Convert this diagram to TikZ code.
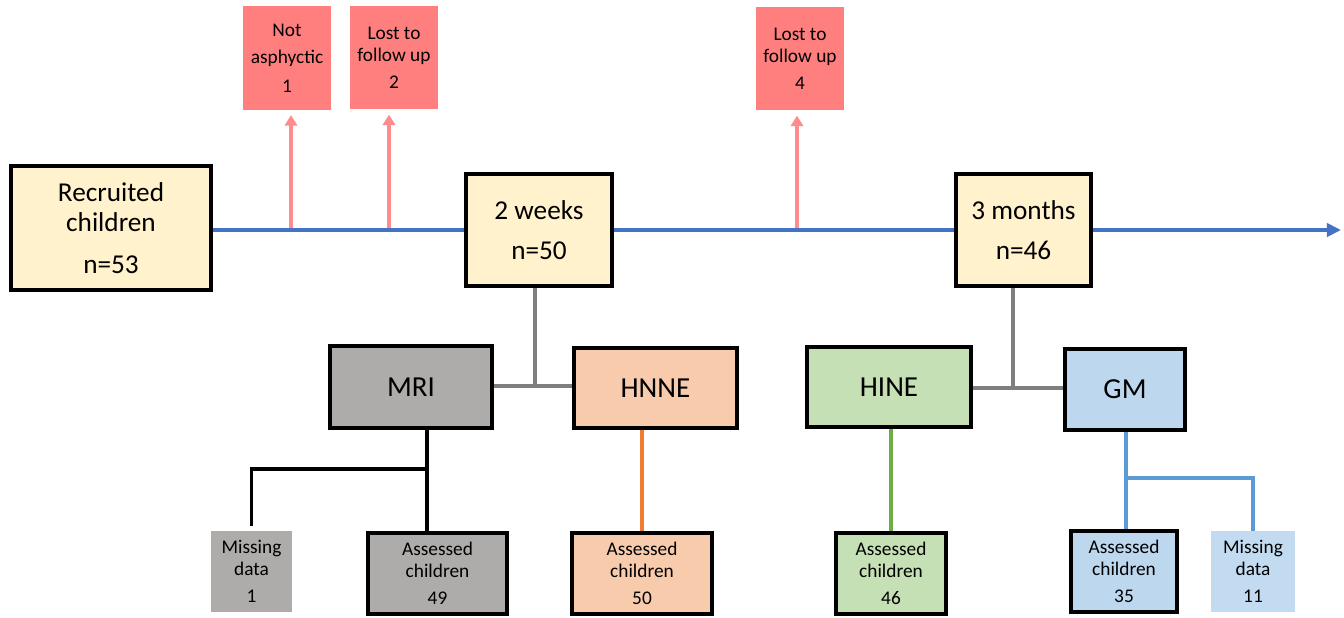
\documentclass[tikz,border=0pt]{standalone}
\usepackage{fontspec}
\setmainfont{Carlito}
\usetikzlibrary{arrows.meta}
\definecolor{cream}{HTML}{FFF2CC}
\definecolor{lostred}{HTML}{FF7F7F}
\definecolor{lostarr}{HTML}{FF8C8C}
\definecolor{mrigrey}{HTML}{AEABAB}
\definecolor{peach}{HTML}{F8CBAD}
\definecolor{mint}{HTML}{C5E0B4}
\definecolor{sky}{HTML}{BDD7EE}
\definecolor{skymiss}{HTML}{C3DBF1}
\definecolor{tline}{HTML}{4472C4}
\definecolor{linkgrey}{HTML}{7F7F7F}
\definecolor{orangel}{HTML}{ED7D31}
\definecolor{greenl}{HTML}{70AD47}
\definecolor{bluel}{HTML}{5B9BD5}
\begin{document}
\begin{tikzpicture}[
  big/.style={draw=black, line width=2pt, fill=cream, align=center, inner sep=1pt,
    font=\fontsize{15.5}{17}\selectfont},
  test/.style={draw=black, line width=2pt, align=center, inner sep=1pt,
    font=\fontsize{16.5}{19}\selectfont},
  small/.style={align=center, inner sep=1pt, minimum height=1.62cm,
    font=\fontsize{11}{12.5}\selectfont},
  lost/.style={small, fill=lostred, minimum width=1.76cm, minimum height=2.07cm},
  lostup/.style={draw=lostarr, line width=1.8pt, -{Triangle[length=6pt,width=7pt]}, shorten >=0.1cm},
  link/.style={draw=linkgrey, line width=1.8pt}
]
\useasboundingbox (0, 0) rectangle (26.88, -12.34);

% timeline boxes
\draw (2.22, -4.56) node[big, minimum width=4cm, minimum height=2.48cm] (rec) {Recruited\\children\\[7pt]n=53};
\draw (10.78, -4.6) node[big, minimum width=2.92cm, minimum height=2.24cm] (wk) {2 weeks\\[6pt]n=50};
\draw (20.47, -4.6) node[big, minimum width=2.7cm, minimum height=2.24cm] (mo) {3 months\\[6pt]n=46};
\coordinate (tend) at (26.82, -4.6);

% drop outs
\draw (5.74, -1.16) node[lost] (na) {Not\\[3pt]asphyctic\\[4pt]1};
\draw (7.88, -1.15) node[lost] (lf1) {Lost to\\follow up\\[3pt]2};
\draw (16.0, -1.17) node[lost] (lf2) {Lost to\\follow up\\[3pt]4};
\coordinate (a1) at (5.82, -4.6);
\coordinate (a2) at (7.78, -4.6);
\coordinate (a3) at (15.94, -4.6);
\draw[lostup] (a1) -- (a1 |- na.south);
\draw[lostup] (a2) -- (a2 |- lf1.south);
\draw[lostup] (a3) -- (a3 |- lf2.south);

\draw[draw=tline, line width=2.6pt] (rec.east |- wk.west) -- (wk.west);
\draw[draw=tline, line width=2.6pt] (wk.east) -- (mo.west);
\draw[draw=tline, line width=2.6pt, -{Triangle[length=8pt,width=7.5pt]}] (mo.east) -- (tend);

% tests
\draw (8.22, -7.74) node[test, fill=mrigrey, minimum width=3.24cm, minimum height=1.64cm] (mri) {MRI};
\draw (13.11, -7.76) node[test, fill=peach, minimum width=3.26cm, minimum height=1.6cm] (hnne) {HNNE};
\draw (17.78, -7.74) node[test, fill=mint, minimum width=3.28cm, minimum height=1.6cm] (hine) {HINE};
\draw (22.5, -7.79) node[test, fill=sky, minimum width=2.4cm, minimum height=1.62cm] (gm) {GM};

\coordinate (j1) at (10.7, -7.72);
\coordinate (j2) at (20.26, -7.76);
\draw[link] (wk.south -| j1) -- (j1);
\draw[link] (mri.east |- j1) -- (hnne.west |- j1);
\draw[link] (mo.south -| j2) -- (j2);
\draw[link] (hine.east |- j2) -- (gm.west |- j2);

% results
\draw (5.03, -11.43) node[small, fill=mrigrey, minimum width=1.62cm] (mrim) {Missing\\data\\[3pt]1};
\draw (8.75, -11.47) node[small, draw=black, line width=1.8pt, fill=mrigrey, minimum width=2.78cm] (mria) {Assessed\\children\\[3pt]49};
\draw (12.84, -11.47) node[small, draw=black, line width=1.8pt, fill=peach, minimum width=2.8cm] (hnnea) {Assessed\\children\\[3pt]50};
\draw (17.82, -11.47) node[small, draw=black, line width=1.8pt, fill=mint, minimum width=2.2cm] (hinea) {Assessed\\children\\[3pt]46};
\draw (22.48, -11.43) node[small, draw=black, line width=1.8pt, fill=sky, minimum width=2.12cm] (gma) {Assessed\\children\\[3pt]35};
\draw (25.06, -11.43) node[small, fill=skymiss, minimum width=1.68cm] (gmm) {Missing\\data\\[3pt]11};

\coordinate (b1) at (8.54, -9.38);
\coordinate (b2) at (22.52, -9.56);
\draw[black, line width=1.8pt] (mri.south -| b1) -- (mria.north -| b1);
\draw[black, line width=1.8pt] (b1) -| ([yshift=0.1cm]mrim.north);
\draw[orangel, line width=2pt] (hnne.south -| hnnea) -- (hnnea.north);
\draw[greenl, line width=2pt] (hine.south -| hinea) -- (hinea.north);
\draw[bluel, line width=1.8pt] (gm.south -| b2) -- (gma.north -| b2);
\draw[bluel, line width=1.8pt] (b2) -| (gmm.north);
\end{tikzpicture}
\end{document}
